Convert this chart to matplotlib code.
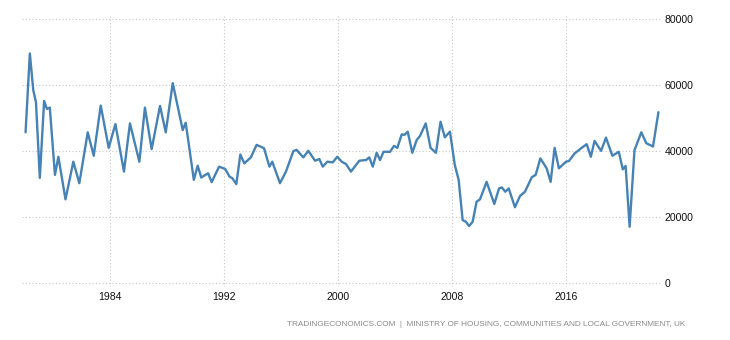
import matplotlib
matplotlib.use("Agg")
import matplotlib.pyplot as plt

# dates (decimal years) and values
dates = [1978.1, 1978.4, 1978.64, 1978.83, 1979.1, 1979.4, 1979.6, 1979.8,
         1980.16, 1980.4, 1980.9, 1981.45, 1981.87, 1982.46, 1982.88, 1983.37,
         1983.93, 1984.4, 1985.0, 1985.42, 1986.08, 1986.47, 1986.94, 1987.53,
         1987.93, 1988.42, 1989.12, 1989.33, 1989.9, 1990.17, 1990.42, 1990.9,
         1991.15, 1991.67, 1992.1, 1992.4, 1992.6, 1992.88, 1993.16, 1993.44,
         1993.9, 1994.3, 1994.82, 1995.2, 1995.4, 1995.94, 1996.36, 1996.88,
         1997.1, 1997.58, 1997.93, 1998.4, 1998.7, 1998.94, 1999.26, 1999.64,
         1999.96, 2000.27, 2000.57, 2000.92, 2001.5, 2001.97, 2002.2, 2002.45,
         2002.72, 2002.96, 2003.2, 2003.66, 2003.94, 2004.17, 2004.48, 2004.66,
         2004.9, 2005.22, 2005.53, 2005.76, 2006.16, 2006.5, 2006.88, 2007.2,
         2007.5, 2007.86, 2008.2, 2008.47, 2008.75, 2008.98, 2009.2, 2009.45,
         2009.73, 2009.97, 2010.43, 2010.97, 2011.3, 2011.5, 2011.74, 2011.98,
         2012.42, 2012.77, 2013.12, 2013.6, 2013.87, 2014.2, 2014.64, 2014.92,
         2015.2, 2015.5, 2016.0, 2016.2, 2016.6, 2017.1, 2017.45, 2017.74,
         2018.0, 2018.46, 2018.8, 2019.25, 2019.7, 2019.98, 2020.18, 2020.46,
         2020.8, 2021.28, 2021.63, 2022.1, 2022.48]
values = [45800, 69700, 58600, 54900, 32000, 55300, 52900, 53300,
          32900, 38400, 25500, 36900, 30400, 45800, 38700, 53900,
          41100, 48300, 33900, 48500, 36900, 53300, 40700, 53800,
          45800, 60700, 46500, 48700, 31400, 35700, 32100, 33400,
          30700, 35400, 34700, 32400, 31900, 30100, 39100, 36400,
          38200, 42000, 41000, 35400, 36900, 30400, 33900, 40100,
          40500, 38200, 40200, 37200, 37700, 35400, 36900, 36700,
          38400, 36900, 36200, 33900, 37200, 37400, 38200, 35400,
          39600, 37400, 39900, 39900, 41700, 41100, 45200, 45000,
          46000, 39600, 43500, 44700, 48500, 41100, 39600, 49000,
          44300, 46000, 35900, 31400, 19200, 18700, 17400, 18700,
          24800, 25500, 30800, 24100, 28800, 29100, 27800, 28800,
          23100, 26500, 27800, 32200, 32900, 37900, 34900, 30800,
          41100, 34900, 36900, 37100, 39400, 41100, 42200, 38400,
          43200, 40200, 44200, 38700, 39900, 34600, 35600, 17200,
          40400, 45800, 42500, 41500, 51900]

x_ticks = [1984, 1992, 2000, 2008, 2016]
y_ticks = [0, 20000, 40000, 60000, 80000]
source = "TRADINGECONOMICS.COM  |  MINISTRY OF HOUSING, COMMUNITIES AND LOCAL GOVERNMENT, UK"

fig = plt.figure(figsize=(7.3, 3.4), dpi=100)
ax = fig.add_axes([22 / 730, 0.1565, 640 / 730, 0.796])

ax.plot(dates, values, color="#4682b4", linewidth=1.7,
        solid_joinstyle="round", solid_capstyle="round")

ax.set_xlim(1977.85, 2022.73)
ax.set_ylim(-1000, 81000)
ax.set_xticks(x_ticks)
ax.set_xticklabels([str(t) for t in x_ticks])
ax.set_yticks(y_ticks)
ax.set_yticklabels([str(t) for t in y_ticks])

ax.yaxis.tick_right()
ax.tick_params(axis="both", length=0, labelsize=7.6, labelcolor="#111111",
               labelfontfamily="Liberation Sans")
ax.tick_params(axis="x", pad=4)
ax.tick_params(axis="y", pad=2)

ax.grid(True, color="#c8c8c8", linestyle=(0, (1, 2)), linewidth=0.8)
ax.set_axisbelow(True)
for s in ax.spines.values():
    s.set_visible(False)

fig.text(685 / 730, 1 - 325 / 340, source, ha="right", va="center",
         fontsize=5.95, color="#8a8a8a", family="Liberation Sans")

fig.savefig("out.png", dpi=100)
